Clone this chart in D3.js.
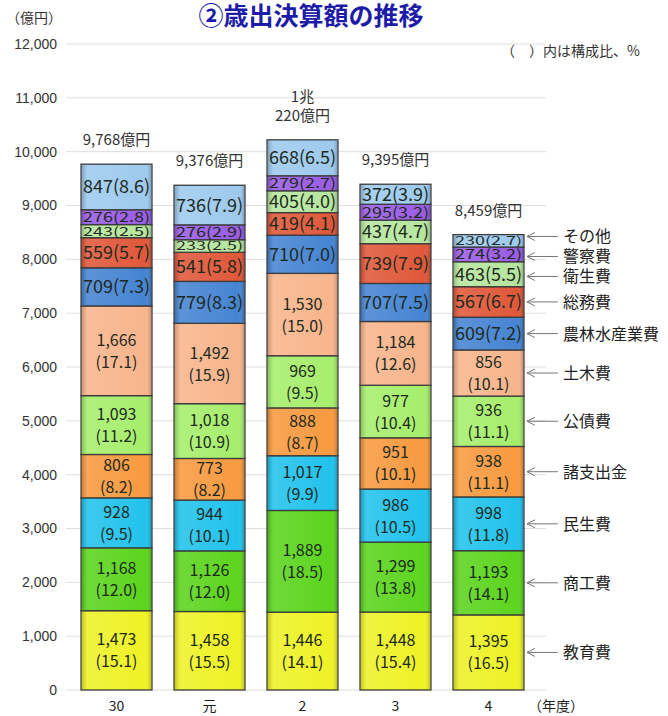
<!DOCTYPE html>
<html>
<head>
<meta charset="utf-8">
<script src="https://cdn.jsdelivr.net/npm/d3@7"></script>
<style>
  body { margin: 0; background: #fff; }
  text { font-family: "Noto Sans CJK JP", "Noto Sans", sans-serif; }
</style>
</head>
<body>
<div id="chart-area"></div>
<script>
// years and categories (stacked from the bottom)
let years = ["30", "元", "2", "3", "4"];
let categories = ["教育費", "商工費", "民生費", "諸支出金", "公債費", "土木費",
                  "農林水産業費", "総務費", "衛生費", "警察費", "その他"];
// amounts in 億円, one array per category, same order as years
let kyoiku   = [1473, 1458, 1446, 1448, 1395];
let shoko    = [1168, 1126, 1889, 1299, 1193];
let minsei   = [928, 944, 1017, 986, 998];
let shishutsu= [806, 773, 888, 951, 938];
let kosai    = [1093, 1018, 969, 977, 936];
let doboku   = [1666, 1492, 1530, 1184, 856];
let norin    = [709, 779, 710, 707, 609];
let somu     = [559, 541, 419, 739, 567];
let eisei    = [243, 233, 405, 437, 463];
let keisatsu = [276, 276, 279, 295, 274];
let sonota   = [847, 736, 668, 372, 230];
// composition ratios (%)
let kyoikuP   = ["15.1", "15.5", "14.1", "15.4", "16.5"];
let shokoP    = ["12.0", "12.0", "18.5", "13.8", "14.1"];
let minseiP   = ["9.5", "10.1", "9.9", "10.5", "11.8"];
let shishutsuP= ["8.2", "8.2", "8.7", "10.1", "11.1"];
let kosaiP    = ["11.2", "10.9", "9.5", "10.4", "11.1"];
let dobokuP   = ["17.1", "15.9", "15.0", "12.6", "10.1"];
let norinP    = ["7.3", "8.3", "7.0", "7.5", "7.2"];
let somuP     = ["5.7", "5.8", "4.1", "7.9", "6.7"];
let eiseiP    = ["2.5", "2.5", "4.0", "4.7", "5.5"];
let keisatsuP = ["2.8", "2.9", "2.7", "3.2", "3.2"];
let sonotaP   = ["8.6", "7.9", "6.5", "3.9", "2.7"];
let totalLabels = [["9,768億円"], ["9,376億円"], ["1兆", "220億円"], ["9,395億円"], ["8,459億円"]];
let yTicks = [0, 1000, 2000, 3000, 4000, 5000, 6000, 7000, 8000, 9000, 10000, 11000, 12000];

let values = [kyoiku, shoko, minsei, shishutsu, kosai, doboku, norin, somu, eisei, keisatsu, sonota];
let ratios = [kyoikuP, shokoP, minseiP, shishutsuP, kosaiP, dobokuP, norinP, somuP, eiseiP, keisatsuP, sonotaP];
let colors = ["#eef226", "#5cd41e", "#22c2ec", "#f89a40", "#a6ee6c", "#f8b58c",
              "#4684d2", "#e0583a", "#b6e69e", "#9a5ce6", "#9ecaee"];

let width = 668, height = 716;

let svg = d3.select("#chart-area")
    .append("svg")
    .attr("width", width)
    .attr("height", height);

let y = d3.scaleLinear().domain([0, 12000]).range([690, 44]);
let x = d3.scaleBand().domain(years).range([59, 546]).padding(0.237);

// build rows for the stack
let rows = years.map((yr, i) => {
    let r = {year: yr};
    categories.forEach((c, j) => { r[c] = values[j][i]; });
    return r;
});
let stacked = d3.stack().keys(categories)(rows);

// gridlines
svg.append("g")
    .selectAll("line")
    .data(yTicks)
    .enter()
    .append("line")
    .attr("x1", 66).attr("x2", 546)
    .attr("y1", d => y(d)).attr("y2", d => y(d))
    .style("stroke", "#dedede")
    .style("stroke-width", 1);

// y axis labels
let yAxis = svg.append("g")
    .attr("transform", "translate(61,0)")
    .call(d3.axisLeft(y).tickValues(yTicks).tickSize(0).tickPadding(4).tickFormat(d3.format(",")));
yAxis.select(".domain").remove();
yAxis.selectAll("text")
    .style("font-family", "Liberation Sans, Arial, sans-serif")
    .style("font-size", "14px")
    .style("fill", "#333");

// gradient for bevel look
let defs = svg.append("defs");
let grad = defs.append("linearGradient").attr("id", "shine").attr("x1", 0).attr("x2", 1).attr("y1", 0).attr("y2", 0);
grad.append("stop").attr("offset", "0%").attr("stop-color", "#000").attr("stop-opacity", 0.18);
grad.append("stop").attr("offset", "8%").attr("stop-color", "#fff").attr("stop-opacity", 0.12);
grad.append("stop").attr("offset", "92%").attr("stop-color", "#fff").attr("stop-opacity", 0.0);
grad.append("stop").attr("offset", "100%").attr("stop-color", "#000").attr("stop-opacity", 0.2);

// segments
let layers = svg.selectAll(".layer")
    .data(stacked)
    .enter()
    .append("g")
    .attr("class", "layer");

layers.selectAll("rect.seg")
    .data((d, j) => d.map((s, i) => ({s: s, j: j, i: i})))
    .enter()
    .append("rect")
    .attr("class", "seg")
    .attr("x", d => x(years[d.i]))
    .attr("y", d => y(d.s[1]))
    .attr("width", x.bandwidth())
    .attr("height", d => y(d.s[0]) - y(d.s[1]))
    .style("fill", d => colors[d.j])
    .style("stroke", "#3c3c3c")
    .style("stroke-width", 1.3);

layers.selectAll("rect.shine")
    .data((d, j) => d.map((s, i) => ({s: s, j: j, i: i})))
    .enter()
    .append("rect")
    .attr("class", "shine")
    .attr("x", d => x(years[d.i]) + 1)
    .attr("y", d => y(d.s[1]) + 1)
    .attr("width", x.bandwidth() - 2)
    .attr("height", d => Math.max(0, y(d.s[0]) - y(d.s[1]) - 2))
    .style("fill", "url(#shine)");

// segment labels (single-line ones get squashed vertically to fit thin segments)
layers.selectAll("text.val")
    .data((d, j) => d.map((s, i) => ({s: s, j: j, i: i})))
    .enter()
    .append("text")
    .attr("class", "val")
    .attr("text-anchor", "middle")
    .style("fill", "#1e2a1e")
    .each(function(d) {
        let cx = x(years[d.i]) + x.bandwidth() / 2;
        let cy = (y(d.s[0]) + y(d.s[1])) / 2;
        let h = y(d.s[0]) - y(d.s[1]);
        let v = d3.format(",")(values[d.j][d.i]);
        let p = ratios[d.j][d.i];
        let t = d3.select(this);
        if (d.j < 6) {
            t.style("font-size", "16px");
            t.append("tspan").attr("x", cx).attr("y", cy - 5).text(v);
            t.append("tspan").attr("x", cx).attr("y", cy + 17).text("(" + p + ")");
        } else {
            let k = Math.min(1, (h - 1) / 18);
            t.style("font-size", "18px")
                .attr("x", 0).attr("y", 6.5)
                .attr("transform", "translate(" + cx + "," + cy + ") scale(1," + k + ")")
                .text(v + "(" + p + ")");
        }
    });

// totals above the bars
svg.selectAll(".total")
    .data(years)
    .enter()
    .append("text")
    .attr("class", "total")
    .attr("text-anchor", "middle")
    .style("font-size", "15px")
    .style("fill", "#333")
    .each(function(d, i) {
        let top = y(d3.sum(values, v => v[i]));
        let lines = totalLabels[i];
        let t = d3.select(this);
        lines.forEach((l, k) => {
            t.append("tspan")
                .attr("x", x(d) + x.bandwidth() / 2)
                .attr("y", top - 19 - (lines.length - 1 - k) * 19)
                .text(l);
        });
    });

// x axis labels
svg.selectAll(".xlab")
    .data(years)
    .enter()
    .append("text")
    .attr("class", "xlab")
    .attr("x", d => x(d) + x.bandwidth() / 2)
    .attr("y", 711)
    .attr("text-anchor", "middle")
    .style("font-size", "14px")
    .style("fill", "#222")
    .text(d => d);

svg.append("text")
    .attr("x", 528).attr("y", 711)
    .style("font-size", "14px").style("fill", "#222")
    .text("（年度）");

// legend with arrows pointing at the last bar; spread labels so they don't collide
let last = stacked.map(layer => layer[years.length - 1]);
let bx = x(years[years.length - 1]) + x.bandwidth();
let mids = last.map(s => (y(s[0]) + y(s[1])) / 2);
let ly = mids.slice();
for (let it = 0; it < 50; it++) {
    for (let j = 0; j < ly.length - 1; j++) {
        let gap = ly[j] - ly[j + 1];
        if (gap < 20) {
            let push = (20 - gap) / 2;
            ly[j] += push;
            ly[j + 1] -= push;
        }
    }
}
let leg = svg.selectAll(".leg")
    .data(categories)
    .enter()
    .append("g")
    .attr("class", "leg");
leg.append("line")
    .attr("x1", bx + 3).attr("x2", bx + 34)
    .attr("y1", (d, j) => ly[j])
    .attr("y2", (d, j) => ly[j])
    .style("stroke", "#777").style("stroke-width", 1);
leg.append("path")
    .attr("d", (d, j) => {
        let cy = ly[j];
        return "M" + (bx + 11) + "," + (cy - 4) + "L" + (bx + 3) + "," + cy + "L" + (bx + 11) + "," + (cy + 4);
    })
    .style("fill", "none").style("stroke", "#777").style("stroke-width", 1);
leg.append("text")
    .attr("x", bx + 39)
    .attr("y", (d, j) => ly[j] + 6)
    .style("font-size", "16px")
    .style("fill", "#222")
    .text(d => d);

// titles
svg.append("text")
    .attr("x", 311).attr("y", 25)
    .attr("text-anchor", "middle")
    .style("font-size", "25px")
    .style("font-weight", "bold")
    .style("fill", "#1c1ca8")
    .text("②歳出決算額の推移");

svg.append("text")
    .attr("x", 6).attr("y", 23)
    .style("font-size", "14px").style("fill", "#333")
    .text("（億円）");

svg.append("text")
    .attr("x", 640).attr("y", 56)
    .attr("text-anchor", "end")
    .style("font-size", "14px").style("fill", "#333")
    .text("（　）内は構成比、%");
</script>
</body>
</html>
